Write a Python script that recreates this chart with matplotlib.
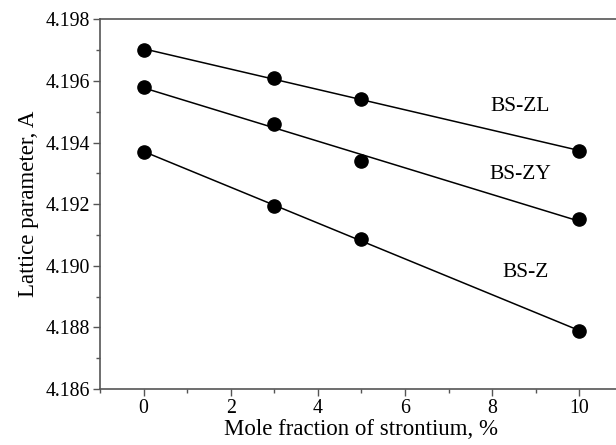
import numpy as np
import matplotlib.pyplot as plt
from matplotlib.ticker import MultipleLocator

plt.rcParams['font.family'] = ['Liberation Serif', 'DejaVu Serif']

# data
x = [0, 3, 5, 10]
bs_zl = [4.19700, 4.19611, 4.19540, 4.19372]
bs_zy = [4.19579, 4.19460, 4.19341, 4.19151]
bs_z = [4.19369, 4.19195, 4.19087, 4.18787]
names = ['BS-ZL', 'BS-ZY', 'BS-Z']
label_pos = [(8.65, 4.19516), (8.65, 4.19295), (8.77, 4.18977)]

fig = plt.figure(figsize=(6.16, 4.45), dpi=100)
ax = fig.add_axes([0.1623, 0.1258, 0.849, 0.8308])

for ys, name, (lx, ly) in zip([bs_zl, bs_zy, bs_z], names, label_pos):
    # straight line fit through the points
    k, b = np.polyfit(x, ys, 1)
    xf = np.array([x[0], x[-1]])
    ax.plot(xf, k * xf + b, color='black', lw=1.1, zorder=2)
    ax.plot(x, ys, 'o', color='black', ms=9.5, zorder=3)
    ax.text(lx, ly, name, fontsize=15.5, ha='center', va='center')

ax.set_xlim(-1, 11)
ax.set_ylim(4.186, 4.198)
ax.xaxis.set_major_locator(MultipleLocator(2))
ax.xaxis.set_minor_locator(MultipleLocator(1))
ax.yaxis.set_major_locator(MultipleLocator(0.002))
ax.yaxis.set_minor_locator(MultipleLocator(0.001))
ax.yaxis.set_major_formatter(plt.FormatStrFormatter('%.3f'))

for s in ax.spines.values():
    s.set_color('#555555')
    s.set_linewidth(1.2)
ax.spines['right'].set_visible(False)

ax.tick_params(which='major', direction='out', length=5, width=1, color='#555555', labelsize=14.3, pad=2)
ax.tick_params(which='minor', direction='out', length=3, width=1, color='#555555')

ax.set_xlabel('Mole fraction of strontium, %', fontsize=16.5, labelpad=1)
ax.set_ylabel('Lattice parameter, A', fontsize=16.5, labelpad=5)

fig.savefig('out.png', dpi=100)
